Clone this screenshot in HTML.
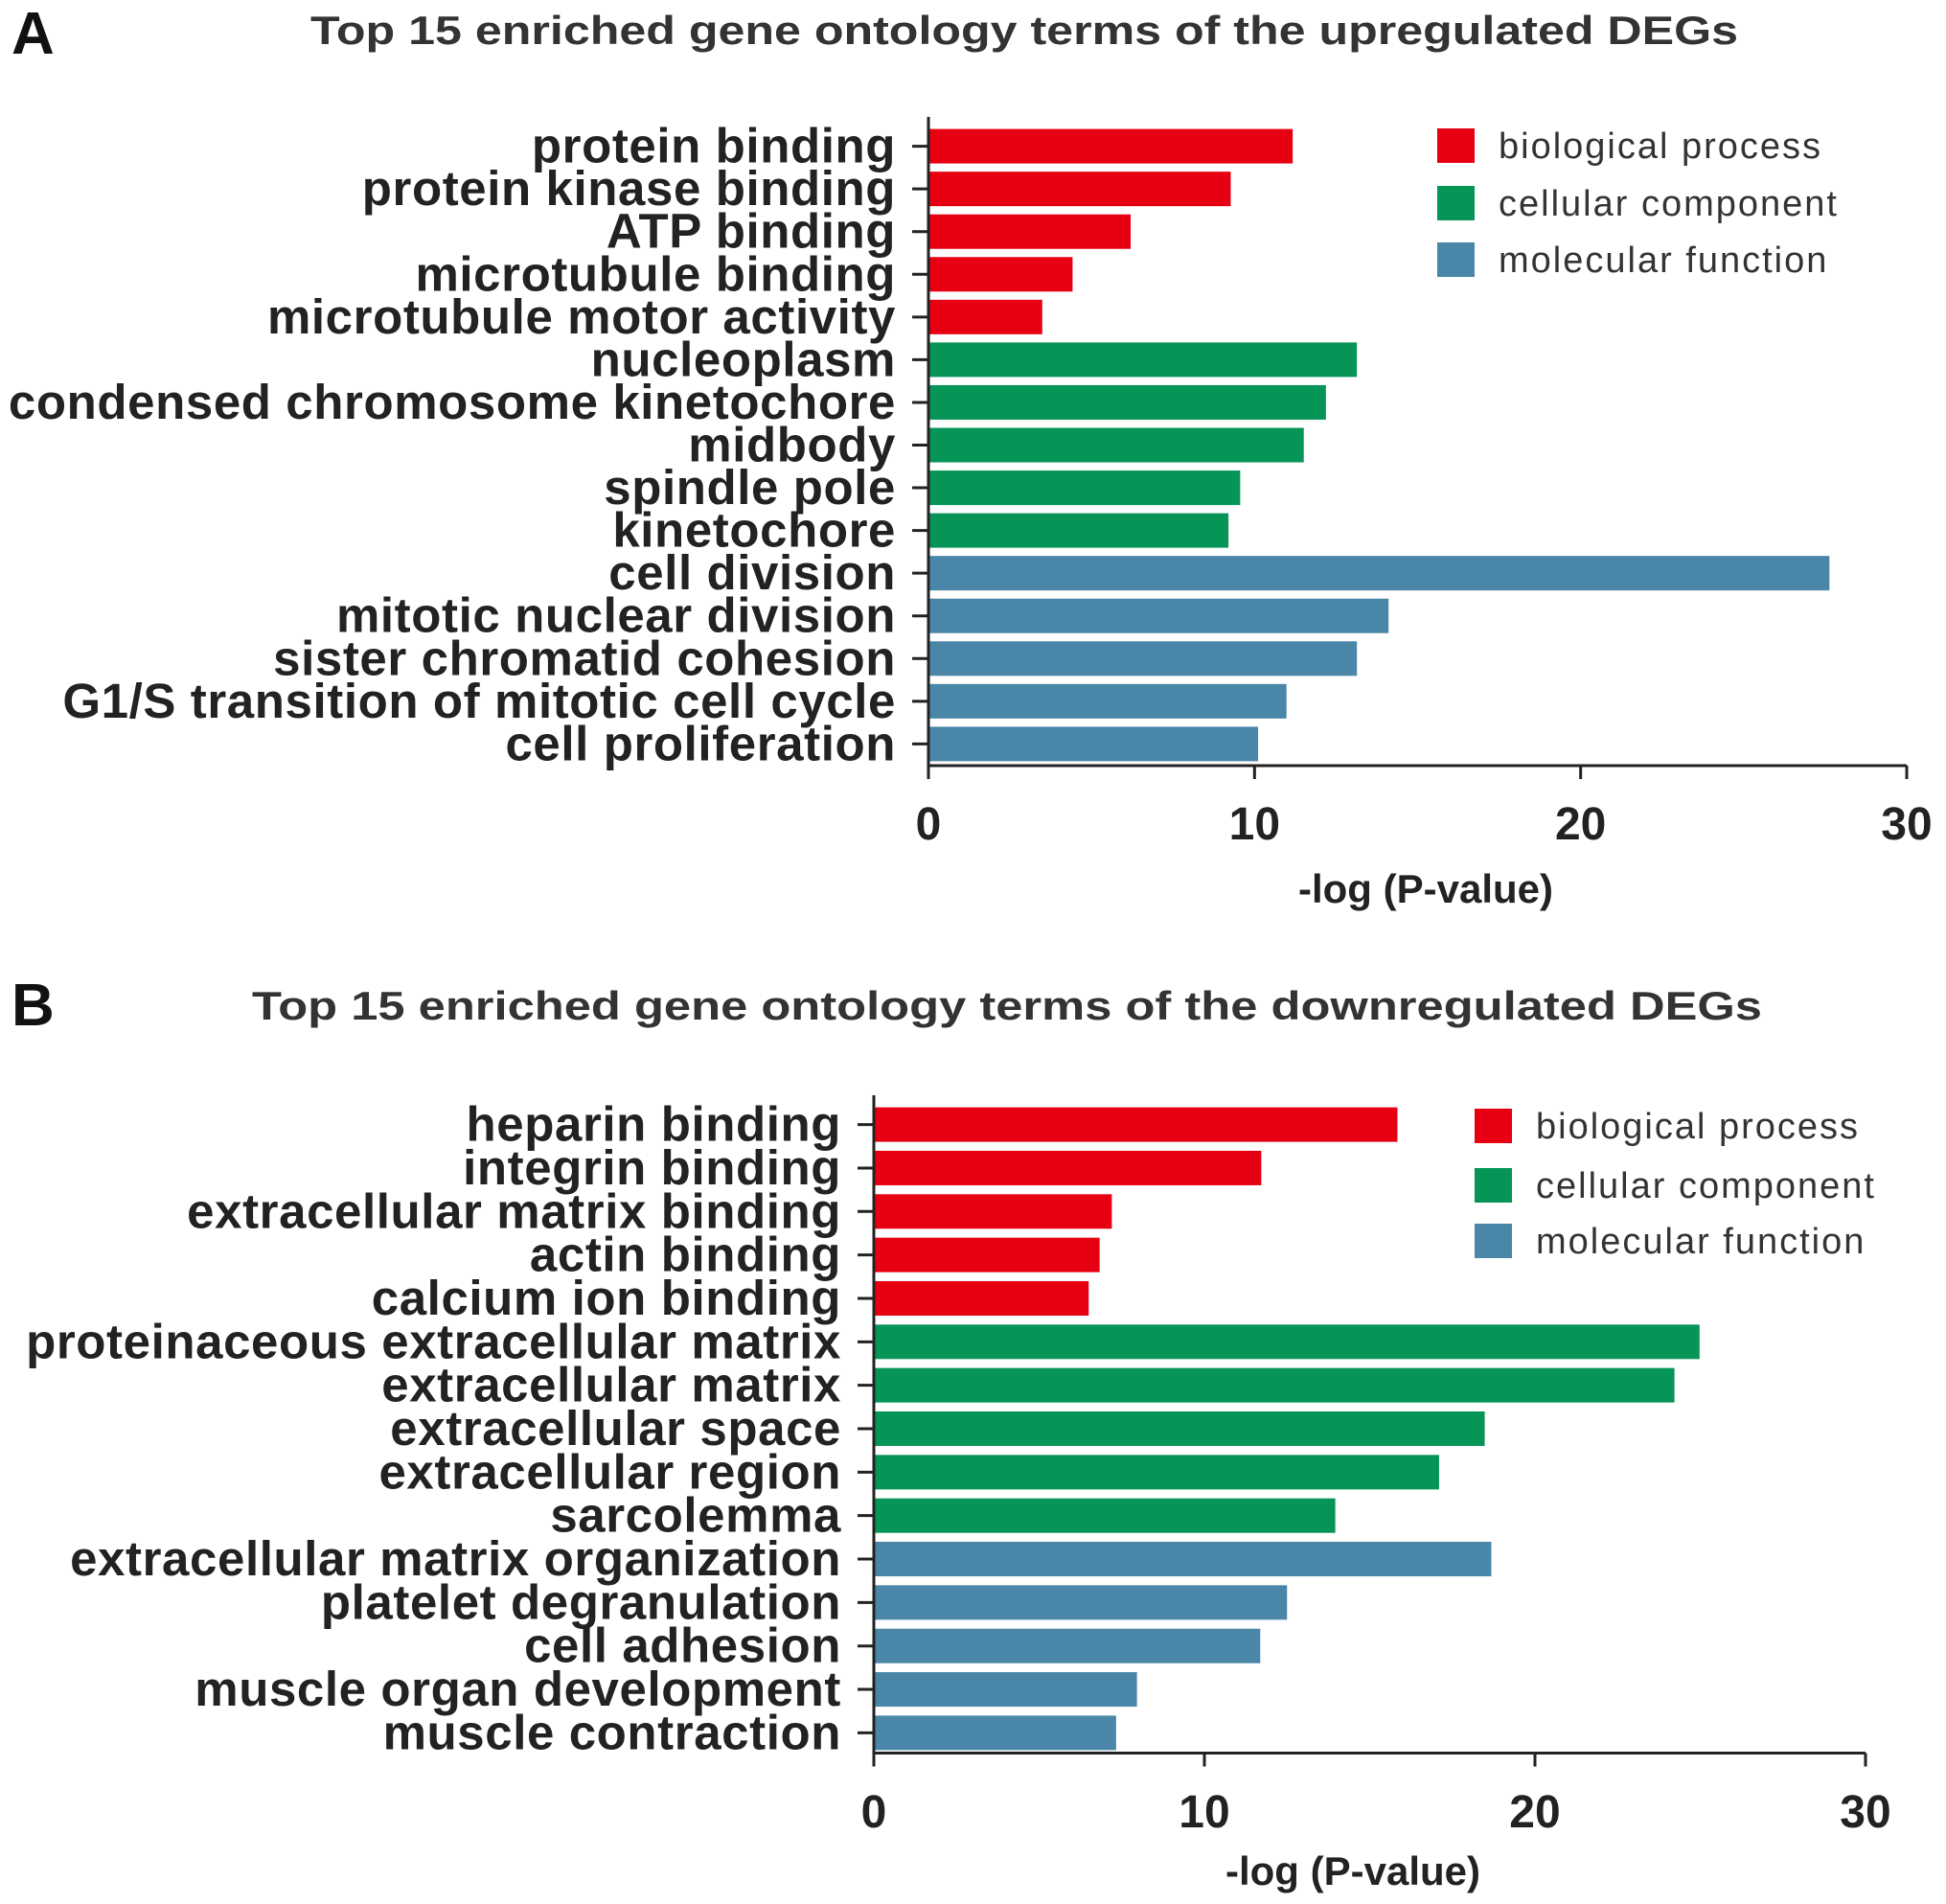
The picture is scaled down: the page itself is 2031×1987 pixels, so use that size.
<!DOCTYPE html>
<html><head><meta charset="utf-8"><style>
html,body{margin:0;padding:0;background:#fff;}
svg{display:block;font-family:"Liberation Sans",Arial,sans-serif;}
</style></head><body>
<svg id="chart" width="2031" height="1987" viewBox="0 0 2031 1987" xmlns="http://www.w3.org/2000/svg">
<rect width="2031" height="1987" fill="#fff"/>
</svg>
<script>
const catsA = ["protein binding","protein kinase binding","ATP binding","microtubule binding","microtubule motor activity","nucleoplasm","condensed chromosome kinetochore","midbody","spindle pole","kinetochore","cell division","mitotic nuclear division","sister chromatid cohesion","G1/S transition of mitotic cell cycle","cell proliferation"];
const valsA = [11.17,9.27,6.2,4.42,3.49,13.14,12.19,11.51,9.56,9.2,27.63,14.11,13.14,10.98,10.11];
const groupsA = [0,0,0,0,0,1,1,1,1,1,2,2,2,2,2];
const catsB = ["heparin binding","integrin binding","extracellular matrix binding","actin binding","calcium ion binding","proteinaceous extracellular matrix","extracellular matrix","extracellular space","extracellular region","sarcolemma","extracellular matrix organization","platelet degranulation","cell adhesion","muscle organ development","muscle contraction"];
const valsB = [15.84,11.72,7.2,6.83,6.5,24.98,24.22,18.48,17.1,13.96,18.68,12.5,11.69,7.96,7.33];
const groupsB = [0,0,0,0,0,1,1,1,1,1,2,2,2,2,2];
const legendLabels = ["biological process","cellular component","molecular function"];
const xTicks = [0,10,20,30];
const colors = ["#e60012","#069556","#4a86a8"];
const NS = "http://www.w3.org/2000/svg";
const svg = document.getElementById('chart');
function mk(tag, attrs, parent){const e=document.createElementNS(NS,tag);for(const k in attrs)e.setAttribute(k,attrs[k]);(parent||svg).appendChild(e);return e;}

function panel(cfg, cats, vals, groups){
  const g = mk('g',{});
  
  
  const x = v => cfg.x0 + (v/30)*(cfg.x30-cfg.x0);
  const y = i => cfg.yFirst + i*(cfg.yLast-cfg.yFirst)/(cats.length-1);
  const bh = 36;
  const L = mk('text',{x:12,y:cfg.letterY,'font-size':62,'font-weight':'bold',fill:'#111'},g);
  L.textContent = cfg.letter;
  
  
  const T = mk('text',{x:cfg.titleX1,y:cfg.titleY,'font-size':42,'font-weight':'bold',fill:'#333',textLength:cfg.titleX2-cfg.titleX1,lengthAdjust:'spacingAndGlyphs'},g);
  T.textContent = cfg.title;
  
  
  cats.forEach((c,i)=>{
    const r = mk('rect',{x:x(0),y:y(i)-bh/2,width:x(vals[i])-x(0),height:bh,fill:colors[groups[i]]},g);
    
    
    mk('line',{x1:x(0)-17,x2:x(0),y1:y(i),y2:y(i),stroke:'#222','stroke-width':3},g);
    const t = mk('text',{x:x(0)-34,y:y(i)+17,'font-size':51,'font-weight':'bold','text-anchor':'end',fill:'#222','letter-spacing':0.6},g);
    t.textContent = c;
    
    
  });
  const ya = mk('line',{x1:x(0),x2:x(0),y1:cfg.axisTop,y2:cfg.base+14,stroke:'#222','stroke-width':3},g);
  
  
  const xa = mk('line',{x1:x(0),x2:x(30),y1:cfg.base,y2:cfg.base,stroke:'#222','stroke-width':3},g);
  
  
  xTicks.forEach(v=>{
    mk('line',{x1:x(v),x2:x(v),y1:cfg.base,y2:cfg.base+14,stroke:'#222','stroke-width':3},g);
    const t = mk('text',{x:x(v),y:cfg.tickY+18,'font-size':48,'font-weight':'bold','text-anchor':'middle',fill:'#222'},g);
    t.textContent = v;
    
    
  });
  const xt = mk('text',{x:cfg.xTitleX,y:cfg.xTitleY+15,'font-size':42,'font-weight':'bold','text-anchor':'middle',fill:'#222'},g);
  xt.textContent = '-log (P-value)';
  
  
  legendLabels.forEach((l,i)=>{
    const sw = mk('rect',{x:cfg.legX,y:cfg.legY[i]-18,width:39,height:36,fill:colors[i]},g);
    
    
    const t = mk('text',{x:cfg.legX+64,y:cfg.legY[i]+13,'font-size':38,fill:'#333','letter-spacing':2},g);
    t.textContent = l;
    
    
  });
}
panel({name:'panel-a',letter:'A',letterY:56,title:'Top 15 enriched gene ontology terms of the upregulated DEGs',titleX1:324,titleX2:1814,titleY:46,
  x0:969,x30:1990,yFirst:152.6,yLast:776.4,axisTop:122,base:799,tickY:858,xTitleX:1488,xTitleY:927,legX:1500,legY:[152,212,271]},catsA,valsA,groupsA);
panel({name:'panel-b',letter:'B',letterY:1070,title:'Top 15 enriched gene ontology terms of the downregulated DEGs',titleX1:263,titleX2:1839,titleY:1064,
  x0:912,x30:1947,yFirst:1173.6,yLast:1808.4,axisTop:1143,base:1829.5,tickY:1889,xTitleX:1412,xTitleY:1952,legX:1539,legY:[1175,1237,1295]},catsB,valsB,groupsB);
</script>
</body></html>
